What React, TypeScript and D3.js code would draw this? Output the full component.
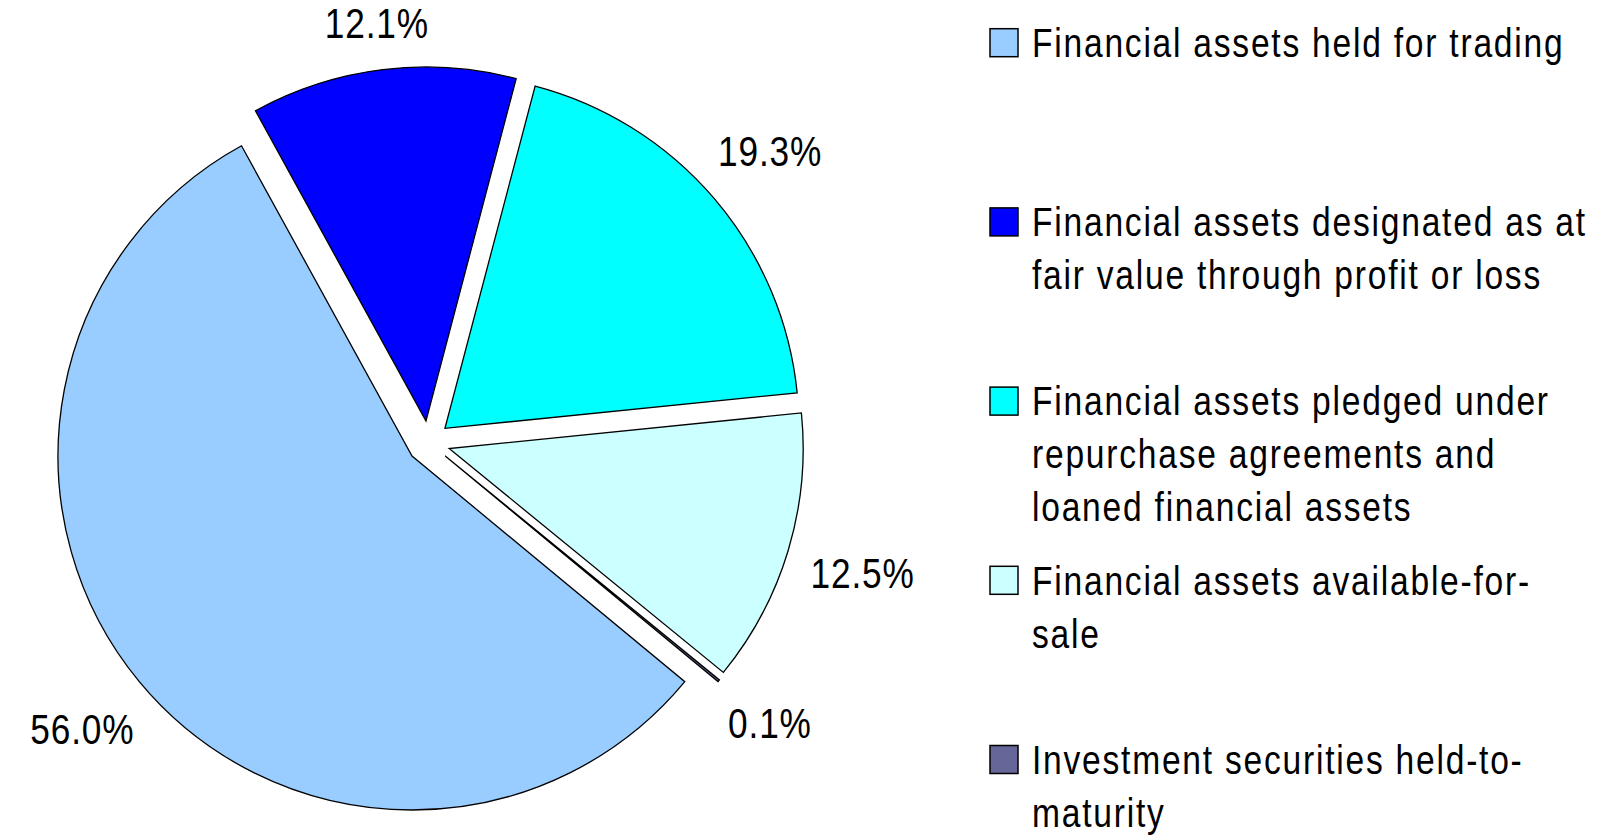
import React from "react";
import * as d3 from "d3";

const categories: string[] = [
  "Financial assets held for trading",
  "Financial assets designated as at fair value through profit or loss",
  "Financial assets pledged under repurchase agreements and loaned financial assets",
  "Financial assets available-for-sale",
  "Investment securities held-to-maturity",
];
const values: number[] = [56.0, 12.1, 19.3, 12.5, 0.1];
const valueLabels: string[] = ["56.0%", "12.1%", "19.3%", "12.5%", "0.1%"];
const legendLines: string[][] = [
  ["Financial assets held for trading"],
  ["Financial assets designated as at", "fair value through profit or loss"],
  ["Financial assets pledged under", "repurchase agreements and", "loaned financial assets"],
  ["Financial assets available-for-", "sale"],
  ["Investment securities held-to-", "maturity"],
];
const colors: string[] = ["#99CCFF", "#0000FF", "#00FFFF", "#CCFFFF", "#666699"];

const W = 1606;
const H = 837;
const CX = 428.6;
const CY = 442.3;
const R = 354;
const EXPLODE = 21.5;
const START = (129.6 * Math.PI) / 180;
const FONT = "'Liberation Sans', Arial, sans-serif";
const SX = 0.84;
const LABEL_SIZE = 42;
const LEGEND_SIZE = 40;

export default function App() {
  const pie = d3
    .pie<number>()
    .sort(null)
    .value((d) => d)
    .startAngle(START)
    .endAngle(START + 2 * Math.PI);
  const arcs = pie(values);
  const arc = d3.arc<d3.PieArcDatum<number>>().innerRadius(0).outerRadius(R);

  const legendX = 990;
  const legendTextX = 1032;
  const legendFirst = 57;
  const legendPitch = 179.2;
  const lineH = 53;
  const sq = 28;

  return (
    <svg
      width={W}
      height={H}
      style={{ position: "absolute", left: 0, top: 0, background: "#fff" }}
    >
      {arcs.map((a, i) => {
        const mid = (a.startAngle + a.endAngle) / 2;
        const dx = Math.sin(mid) * EXPLODE;
        const dy = -Math.cos(mid) * EXPLODE;
        return (
          <path
            key={i}
            d={arc(a) || ""}
            transform={`translate(${CX + dx},${CY + dy})`}
            fill={colors[i]}
            stroke="#000"
            strokeWidth={1.3}
            strokeLinejoin="miter"
          />
        );
      })}
      {arcs.map((a, i) => {
        const mid = (a.startAngle + a.endAngle) / 2;
        const ux = Math.sin(mid);
        const uy = -Math.cos(mid);
        const px = CX + ux * (EXPLODE + R);
        const py = CY + uy * (EXPLODE + R);
        const w = valueLabels[i].length * 0.47 * LABEL_SIZE;
        const h = 31;
        const t = 26 + (w / 2) * Math.abs(ux) + (h / 2) * Math.abs(uy);
        const lx = px + ux * t;
        const ly = py + uy * t;
        return (
          <text
            key={"l" + i}
            transform={`translate(${lx},${ly + h / 2}) scale(${SX},1)`}
            textAnchor="middle"
            fontFamily={FONT}
            fontSize={LABEL_SIZE}
            letterSpacing={1.0}
            fill="#000"
          >
            {valueLabels[i]}
          </text>
        );
      })}
      {categories.map((c, i) => {
        const base = legendFirst + i * legendPitch;
        return (
          <g key={"g" + i}>
            <rect
              x={legendX}
              y={base - 14.3 - sq / 2}
              width={sq}
              height={sq}
              fill={colors[i]}
              stroke="#000"
              strokeWidth={1.5}
            />
            <text
              transform={`translate(${legendTextX},${base}) scale(${SX},1)`}
              fontFamily={FONT}
              fontSize={LEGEND_SIZE}
              letterSpacing={2.1}
              fill="#000"
            >
              {legendLines[i].map((ln, j) => (
                <tspan key={j} x={0} y={j * lineH}>
                  {ln}
                </tspan>
              ))}
            </text>
          </g>
        );
      })}
    </svg>
  );
}
